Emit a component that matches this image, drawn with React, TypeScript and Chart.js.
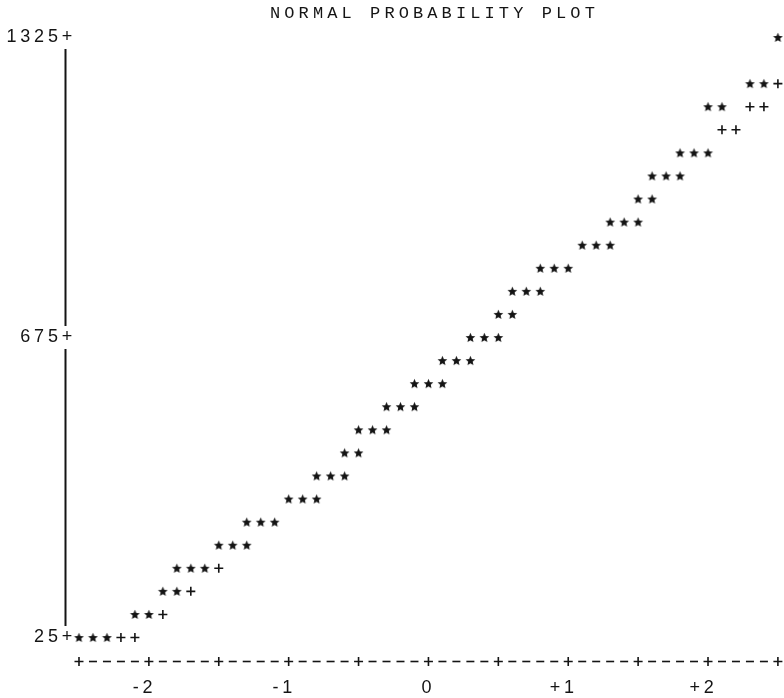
import React, { useEffect, useRef } from "react";
import { Chart, registerables } from "chart.js";

Chart.register(...registerables);

const TITLE = "NORMAL PROBABILITY PLOT";

// x axis: normal quantiles
const X_MIN = -2.55;
const X_MAX = 2.5;
const X_AXIS_COL = -2.6; // column holding the vertical axis
const X_ROW_START = -2.5;
const X_ROW_STEP = 0.1;
const X_ROW_MAJOR = 0.5;
const X_TICKS = [-2, -1, 0, 1, 2];
const X_TICK_LABELS = ["-2 ", "-1 ", "0", "+1 ", "+2 "];

// y axis: data values
const Y_MIN = -25; // row holding the horizontal axis
const Y_MAX = 1325;
const Y_TICKS = [25, 675, 1325];
const Y_TICK_LABELS = ["25+", "675+", "1325+"];

// observed points ('*'): normal quantile and value
const starQ = [
  -2.5, -2.4, -2.3,
  -2.1, -2.0,
  -1.9, -1.8,
  -1.8, -1.7, -1.6,
  -1.5, -1.4, -1.3,
  -1.3, -1.2, -1.1,
  -1.0, -0.9, -0.8,
  -0.8, -0.7, -0.6,
  -0.6, -0.5,
  -0.5, -0.4, -0.3,
  -0.3, -0.2, -0.1,
  -0.1, 0.0, 0.1,
  0.1, 0.2, 0.3,
  0.3, 0.4, 0.5,
  0.5, 0.6,
  0.6, 0.7, 0.8,
  0.8, 0.9, 1.0,
  1.1, 1.2, 1.3,
  1.3, 1.4, 1.5,
  1.5, 1.6,
  1.6, 1.7, 1.8,
  1.8, 1.9, 2.0,
  2.0, 2.1,
  2.3, 2.4,
  2.5,
];
const starV = [
  25, 25, 25,
  75, 75,
  125, 125,
  175, 175, 175,
  225, 225, 225,
  275, 275, 275,
  325, 325, 325,
  375, 375, 375,
  425, 425,
  475, 475, 475,
  525, 525, 525,
  575, 575, 575,
  625, 625, 625,
  675, 675, 675,
  725, 725,
  775, 775, 775,
  825, 825, 825,
  875, 875, 875,
  925, 925, 925,
  975, 975,
  1025, 1025, 1025,
  1075, 1075, 1075,
  1175, 1175,
  1225, 1225,
  1325,
];

// reference normal line ('+') where visible
const refQ = [-2.2, -2.1, -1.9, -1.7, -1.5, 2.1, 2.2, 2.3, 2.4, 2.5];
const refV = [25, 25, 75, 125, 175, 1125, 1125, 1175, 1175, 1225];

const INK = "#141414";
const W = 784;
const H = 698;
const SPACING = "3.8px";

function makeStar(size: number, color: string): HTMLCanvasElement {
  const c = document.createElement("canvas");
  c.width = size;
  c.height = size;
  const g = c.getContext("2d")!;
  const cx = size / 2;
  const cy = size / 2 + 0.3;
  const R = size / 2 - 0.4;
  const r = R * 0.46;
  g.beginPath();
  for (let i = 0; i < 10; i++) {
    const a = -Math.PI / 2 + (i * Math.PI) / 5;
    const rad = i % 2 === 0 ? R : r;
    g.lineTo(cx + rad * Math.cos(a), cy + rad * Math.sin(a));
  }
  g.closePath();
  g.fillStyle = color;
  g.fill();
  return c;
}

const spacingPlugin = {
  id: "letterSpacing",
  beforeUpdate(chart: any) {
    (chart.ctx as any).letterSpacing = SPACING;
  },
  beforeDraw(chart: any) {
    (chart.ctx as any).letterSpacing = SPACING;
  },
};

const asciiAxes = {
  id: "asciiAxes",
  afterDraw(chart: any) {
    const { ctx } = chart;
    const x = chart.scales.x;
    const y = chart.scales.y;
    ctx.save();
    ctx.strokeStyle = INK;
    ctx.lineCap = "butt";
    // vertical axis, broken at each labelled row
    ctx.lineWidth = 2;
    const vx = Math.round(x.getPixelForValue(X_AXIS_COL)) + 0.5;
    const rowH = Math.abs(y.getPixelForValue(0) - y.getPixelForValue(50));
    for (let i = 0; i < Y_TICKS.length - 1; i++) {
      const yb = y.getPixelForValue(Y_TICKS[i]) - rowH * 0.5;
      const yt = y.getPixelForValue(Y_TICKS[i + 1]) + rowH * 0.5;
      ctx.beginPath();
      ctx.moveTo(vx, yt);
      ctx.lineTo(vx, yb);
      ctx.stroke();
    }
    // horizontal axis row: +----+----+
    const hy = Math.round(y.getPixelForValue(Y_MIN)) + 0.5;
    ctx.lineWidth = 1.6;
    const n = Math.round((X_MAX - X_ROW_START) / X_ROW_STEP);
    const per = Math.round(X_ROW_MAJOR / X_ROW_STEP);
    for (let c = 0; c <= n; c++) {
      const px = x.getPixelForValue(X_ROW_START + c * X_ROW_STEP);
      ctx.beginPath();
      if (c % per === 0) {
        ctx.moveTo(px - 4.5, hy);
        ctx.lineTo(px + 4.5, hy);
        ctx.moveTo(px, hy - 4.5);
        ctx.lineTo(px, hy + 4.5);
      } else {
        ctx.moveTo(px - 4, hy);
        ctx.lineTo(px + 4, hy);
      }
      ctx.stroke();
    }
    ctx.restore();
  },
};

export default function App() {
  const ref = useRef<HTMLCanvasElement | null>(null);

  useEffect(() => {
    if (!ref.current) return;
    const star = makeStar(11, INK);
    const chart = new Chart(ref.current, {
      type: "scatter",
      data: {
        datasets: [
          {
            label: "observed",
            data: starQ.map((q, i) => ({ x: q, y: starV[i] })),
            pointStyle: star as any,
            pointRadius: 5,
            clip: false as any,
          },
          {
            label: "normal reference",
            data: refQ.map((q, i) => ({ x: q, y: refV[i] })),
            pointStyle: "cross",
            pointRadius: 4.5,
            borderColor: INK,
            borderWidth: 1.6,
            clip: false as any,
          },
        ],
      },
      options: {
        animation: false,
        responsive: false,
        events: [],
        layout: { padding: { top: 37.5, right: 4, bottom: 0, left: 0 } },
        plugins: {
          legend: { display: false },
          tooltip: { enabled: false },
          title: { display: false },
        },
        scales: {
          x: {
            type: "linear",
            min: X_MIN,
            max: X_MAX,
            grid: { display: false },
            border: { display: false },
            afterBuildTicks: (s: any) => {
              s.ticks = X_TICKS.map((v) => ({ value: v }));
            },
            afterFit: (s: any) => {
              s.height = 37.4;
            },
            ticks: {
              autoSkip: false,
              maxRotation: 0,
              padding: 9,
              color: INK,
              font: { family: "Liberation Sans", size: 18 },
              callback: (v: any) => {
                const i = X_TICKS.indexOf(Number(v));
                return i >= 0 ? X_TICK_LABELS[i] : "";
              },
            },
          },
          y: {
            type: "linear",
            min: Y_MIN,
            max: Y_MAX,
            grid: { display: false },
            border: { display: false },
            afterBuildTicks: (s: any) => {
              s.ticks = Y_TICKS.map((v) => ({ value: v }));
            },
            afterFit: (s: any) => {
              s.width = 72;
            },
            ticks: {
              autoSkip: false,
              padding: -12,
              color: INK,
              font: { family: "Liberation Sans", size: 18 },
              callback: (v: any) => {
                const i = Y_TICKS.indexOf(Number(v));
                return i >= 0 ? Y_TICK_LABELS[i] : "";
              },
            },
          },
        },
      },
      plugins: [spacingPlugin, asciiAxes],
    });
    return () => chart.destroy();
  }, []);

  return (
    <div style={{ position: "absolute", left: 0, top: 0, width: W, height: H, background: "#fff" }}>
      <div
        style={{
          position: "absolute",
          left: 270,
          top: 4,
          fontFamily: "'Liberation Mono', monospace",
          fontSize: 17,
          letterSpacing: "4.1px",
          whiteSpace: "pre",
          color: INK,
          lineHeight: "20px",
        }}
      >
        {TITLE}
      </div>
      <canvas ref={ref} width={W} height={H} style={{ display: "block" }} />
    </div>
  );
}
